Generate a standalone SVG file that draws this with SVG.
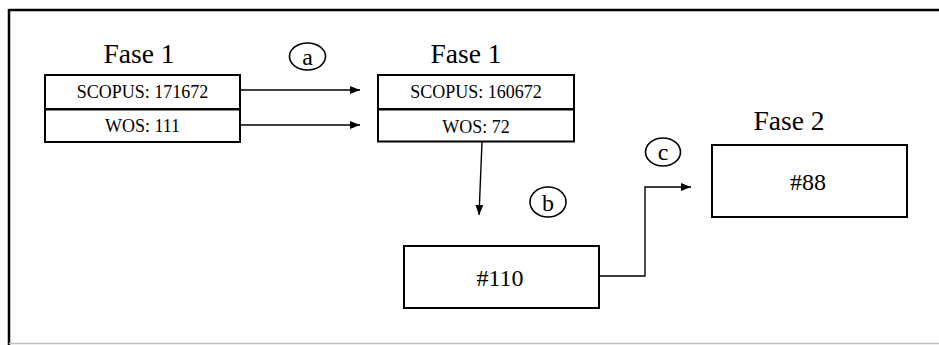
<svg xmlns="http://www.w3.org/2000/svg" width="939" height="345" viewBox="0 0 939 345">
<style>
.box{fill:#fff;stroke:#000;stroke-width:2}
.lbl{font-family:"Liberation Serif","Times New Roman",serif;fill:#000;text-anchor:middle}
.t18{font-size:18px}
.t24{font-size:24px}
.t27{font-size:27.5px}
.con{fill:none;stroke:#000;stroke-width:1.4}
.circ{fill:none;stroke:#000;stroke-width:1.6}
</style>
<defs>
<marker id="ah" markerWidth="10" markerHeight="8" refX="10" refY="4" orient="auto" markerUnits="userSpaceOnUse">
<path d="M0,0 L10,4 L0,8 Z" fill="#000"/>
</marker>
</defs>
<rect width="939" height="345" fill="#fff"/>
<g id="frame">
<line x1="9" y1="10" x2="939" y2="10" stroke="#000" stroke-width="2.5"/>
<line x1="9" y1="9" x2="9" y2="345" stroke="#000" stroke-width="2.5"/>
<line x1="9" y1="343.5" x2="939" y2="343.5" stroke="#c0c0c0" stroke-width="1.5"/>
</g>
<g id="connectors">
<line class="con" x1="241" y1="90" x2="360" y2="90" marker-end="url(#ah)"/>
<line class="con" x1="241" y1="125" x2="360" y2="125" marker-end="url(#ah)"/>
<line class="con" x1="482" y1="142" x2="479" y2="215" marker-end="url(#ah)"/>
<polyline class="con" points="599,276 645,276 645,187 691,187" marker-end="url(#ah)"/>
</g>
<g id="fase1-left">
<text class="lbl t27" x="139" y="63">Fase 1</text>
<rect class="box" x="45" y="75" width="195" height="34"/>
<rect class="box" x="45" y="109.5" width="195" height="32.5"/>
<text class="lbl t18" x="142.5" y="98">SCOPUS: 171672</text>
<text class="lbl t18" x="142.5" y="132">WOS: 111</text>
</g>
<g id="label-a">
<ellipse class="circ" cx="307.5" cy="56.5" rx="18" ry="13.5"/>
<text class="lbl t24" x="307.5" y="65">a</text>
</g>
<g id="fase1-mid">
<text class="lbl t27" x="466" y="63">Fase 1</text>
<rect class="box" x="378" y="75" width="196" height="34"/>
<rect class="box" x="378" y="109.5" width="196" height="32"/>
<text class="lbl t18" x="476" y="98">SCOPUS: 160672</text>
<text class="lbl t18" x="476" y="133">WOS: 72</text>
</g>
<g id="label-b">
<ellipse class="circ" cx="548" cy="202" rx="18" ry="15"/>
<text class="lbl t24" x="548" y="211">b</text>
</g>
<g id="node-110">
<rect class="box" x="404" y="246" width="195" height="62"/>
<text class="lbl t24" x="500" y="286">#110</text>
</g>
<g id="label-c">
<ellipse class="circ" cx="663" cy="152" rx="17.5" ry="14"/>
<text class="lbl t24" x="663" y="160">c</text>
</g>
<g id="fase2">
<text class="lbl t27" x="789" y="130">Fase 2</text>
<rect class="box" x="712" y="145" width="195" height="72"/>
<text class="lbl t24" x="808" y="190">#88</text>
</g>
</svg>
